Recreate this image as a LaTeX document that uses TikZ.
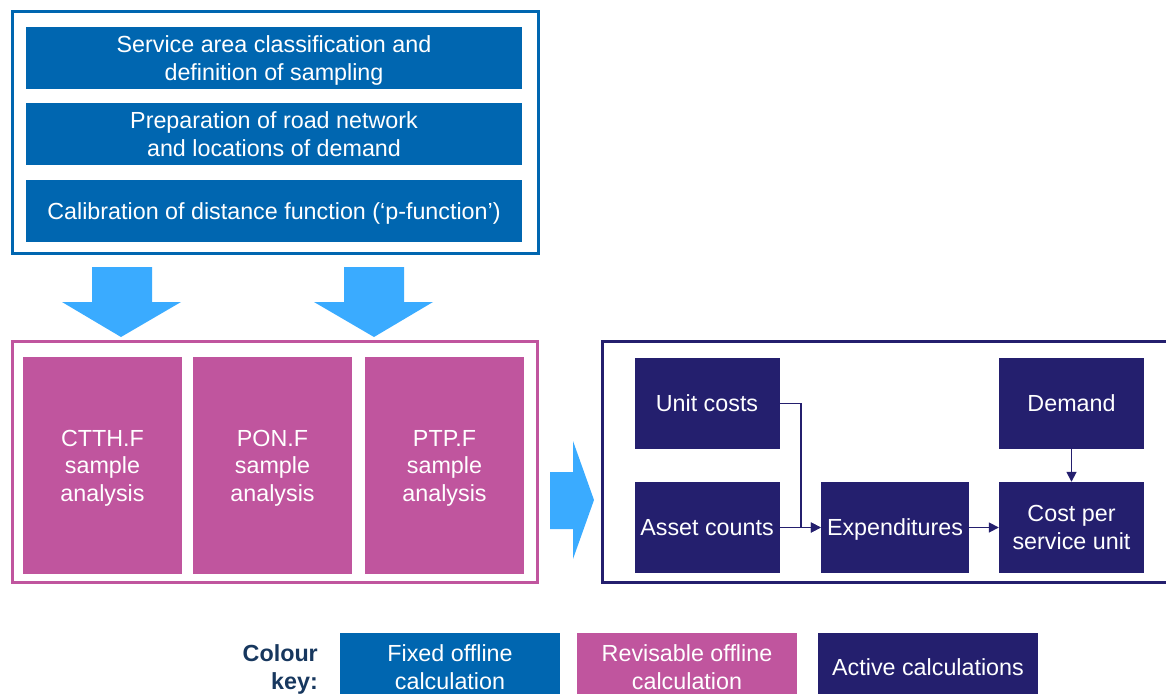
\documentclass[tikz,border=0pt]{standalone}
\usepackage{fontspec}
\setmainfont{Liberation Sans}
\usetikzlibrary{arrows.meta}

\definecolor{fijo}{RGB}{0,102,176}
\definecolor{revisable}{RGB}{192,85,158}
\definecolor{activo}{RGB}{36,31,110}
\definecolor{flechaazul}{RGB}{58,171,255}
\definecolor{clave}{RGB}{23,55,94}

\tikzset{
    caja/.style={inner sep=0pt, align=center, text=white, text depth=0pt,
        font=\fontsize{23.3}{27.5}\selectfont},
    cajafija/.style={caja, fill=fijo, minimum width=496, minimum height=62},
    cajarev/.style={caja, fill=revisable, minimum width=159, minimum height=217},
    cajaact/.style={caja, fill=activo, minimum width=145, minimum height=91},
    cajaclave/.style={caja, minimum width=220, minimum height=68},
    flecha/.style={draw=activo, line width=1.6pt, -{Triangle[length=10pt,width=10pt]}}
}

\begin{document}
\begin{tikzpicture}[x=1pt, y=-1pt]

    % Marco de la imagen
    \useasboundingbox (0,0) rectangle (1166,693);
    \clip (0,0) rectangle (1166,693);

    % Calculos fijos
    \draw[draw=fijo, line width=3pt] (12,12) rectangle (538,253);
    \node[cajafija] (area) at (274,58) {Service area classification and\\definition of sampling};
    \node[cajafija] (red) at (274,134) {Preparation of road network\\and locations of demand};
    \node[cajafija] (calib) at (274,211) {Calibration of distance function (‘p-function’)};

    % Flechas hacia abajo
    \fill[flechaazul] (92,267) -- (152,267) -- (152,302) -- (181,302) -- (121,337)
        -- (62,302) -- (92,302) -- cycle;
    \fill[flechaazul] (344,267) -- (404,267) -- (404,302) -- (433,302) -- (374,337)
        -- (314,302) -- (344,302) -- cycle;

    % Analisis de muestras
    \draw[draw=revisable, line width=3pt] (12,341) rectangle (537,582);
    \node[cajarev] (ctth) at (102.5,465.5) {CTTH.F\\sample\\analysis};
    \node[cajarev] (pon) at (272.5,465.5) {PON.F\\sample\\analysis};
    \node[cajarev] (ptp) at (444.5,465.5) {PTP.F\\sample\\analysis};

    % Flecha hacia la derecha
    \fill[flechaazul] (550,472) -- (573,472) -- (573,441) -- (594,500) -- (573,559)
        -- (573,529) -- (550,529) -- cycle;

    % Calculos activos
    \draw[draw=activo, line width=3pt] (602,341) rectangle (1190,582);
    \node[cajaact] (unit) at (707,403.5) {Unit costs};
    \node[cajaact] (asset) at (707,527.5) {Asset counts};
    \node[cajaact, minimum width=148] (expend) at (895,527.5) {Expenditures};
    \node[cajaact] (demand) at (1071.5,403.5) {Demand};
    \node[cajaact] (cost) at (1071.5,527.5) {Cost per\\service unit};

    \draw[flecha] (unit.east) -- ++(21,0) |- (expend.west);
    \draw[flecha] (asset) -- (expend);
    \draw[flecha] (expend) -- (cost);
    \draw[flecha] (demand) -- (cost);

    % Clave de colores
    \node[caja, text=clave, align=right, anchor=east, font=\fontsize{23.3}{27.5}\selectfont\bfseries]
        (key) at (318,667) {Colour\\key:};
    \node[cajaclave, fill=fijo] (kfijo) at (450,667) {Fixed offline\\calculation};
    \node[cajaclave, fill=revisable] (krev) at (687,667) {Revisable offline\\calculation};
    \node[cajaclave, fill=activo] (kact) at (928,667) {Active calculations};

\end{tikzpicture}
\end{document}
